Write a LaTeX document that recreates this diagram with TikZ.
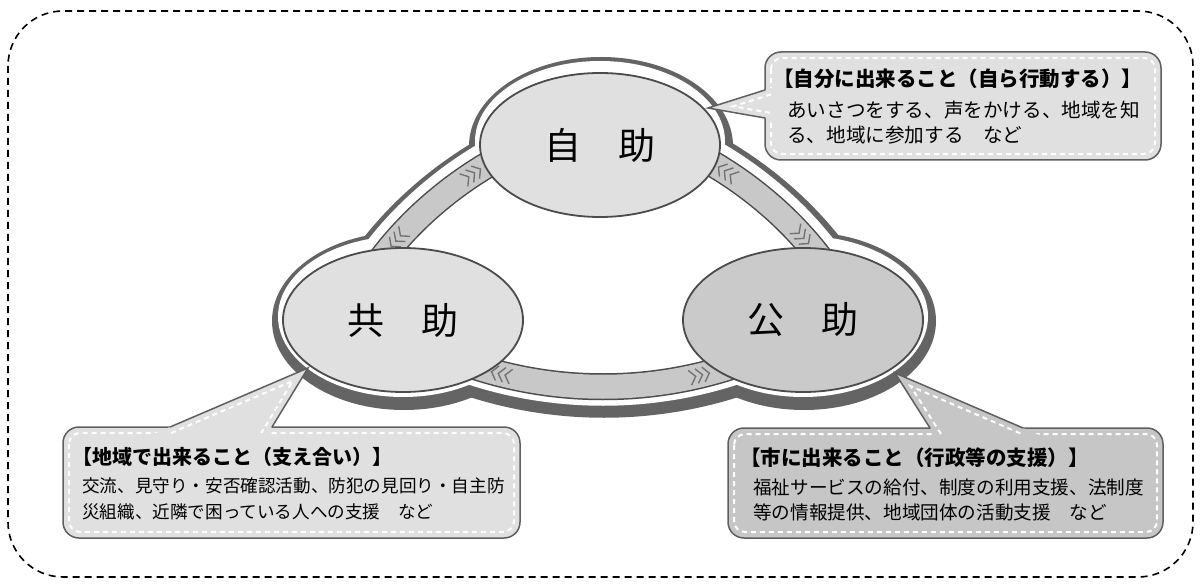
\documentclass[tikz,border=0pt]{standalone}
\usepackage{fontspec}
\newfontfamily\jp{Noto Sans CJK JP}
\usetikzlibrary{shapes.geometric,decorations.markings}
\definecolor{cloudgray}{RGB}{100,100,100}
\definecolor{bandfill}{RGB}{200,200,200}
\definecolor{bandline}{RGB}{75,75,75}
\definecolor{elllight}{RGB}{224,224,224}
\definecolor{elldark}{RGB}{202,202,202}
\definecolor{chevcol}{RGB}{115,115,115}
\definecolor{cline}{RGB}{95,95,95}
\definecolor{cdark}{RGB}{198,198,198}
\def\bandLpath{(505,155) .. controls (452,183) and (403,225) .. (370,275)}
\def\bandBpath{(470,365) .. controls (556,394) and (650,394) .. (736,365)}
\def\bandRpath{(697,155) .. controls (750,183) and (799,225) .. (832,275)}
\newcommand\chevback{\foreach \d in {-7,0,7}{\draw[chevstyle] (\d+3,-7.5) -- (\d-3,0) -- (\d+3,7.5);}}
\newcommand\chevfwd{\foreach \d in {-7,0,7}{\draw[chevstyle] (\d-3,-7.5) -- (\d+3,0) -- (\d-3,7.5);}}
\tikzset{
  chevstyle/.style={draw=chevcol, line width=1.4pt},
  chevs/.style 2 args={postaction={decorate}, decoration={markings,
      mark=at position #1 with {\chevback},
      mark=at position #2 with {\chevfwd}}},
  ell/.style={ellipse, draw=bandline, line width=1.8pt, minimum width=240, minimum height=144,
      inner sep=0pt, font=\jp\fontsize{37}{40}\selectfont},
  cbox/.style={draw=cline, line width=1.5pt, rounded corners=16},
  cdash/.style={white, line width=2pt, dash pattern=on 5pt off 4pt},
  cedge/.style={draw=cline, line width=1.5pt, line cap=round},
  ttlA/.style={anchor=west, inner sep=0pt, font=\jp\bfseries\fontsize{20.5}{24}\selectfont},
  ttlB/.style={anchor=west, inner sep=0pt, font=\jp\bfseries\fontsize{20}{24}\selectfont},
  bodyA/.style={anchor=west, inner sep=0pt, font=\jp\fontsize{19.6}{24}\selectfont},
  bodyB/.style={anchor=west, inner sep=0pt, font=\jp\fontsize{17.6}{22}\selectfont},
  bodyC/.style={anchor=west, inner sep=0pt, font=\jp\fontsize{18.6}{22}\selectfont},
  frame/.style={draw=black, line width=1.6pt, dash pattern=on 7pt off 5pt, rounded corners=55}
}
\begin{document}
\begin{tikzpicture}[x=1pt,y=-1pt]
\useasboundingbox (0,0) rectangle (1201,585);
% outer cloud outline: dark layer
\fill[cloudgray] (601,146) ellipse[x radius=132, y radius=89]
                 (404,321) ellipse[x radius=132, y radius=89]
                 (804,321) ellipse[x radius=132, y radius=89];
\begin{scope}[shift={(1,2)}]
  \draw[cloudgray, line width=58pt] \bandLpath \bandBpath \bandRpath;
\end{scope}
% white gap layer
\fill[white] (600,141.5) ellipse[x radius=125, y radius=80.5]
             (403,316.5) ellipse[x radius=125, y radius=80.5]
             (803,316.5) ellipse[x radius=125, y radius=80.5];
\begin{scope}[shift={(0,-2)}]
  \draw[white, line width=42pt] \bandLpath \bandBpath \bandRpath;
\end{scope}
% interior
\fill[white] (600,145) -- (505,155) .. controls (452,183) and (403,225) .. (370,275) -- (403,320)
  -- (470,365) .. controls (556,394) and (650,394) .. (736,365) -- (803,320)
  -- (832,275) .. controls (799,225) and (750,183) .. (697,155) -- cycle;
% bands
\draw[bandline, line width=27pt] \bandLpath \bandBpath \bandRpath;
\draw[bandfill, line width=24pt, chevs={0.21}{0.75}] \bandLpath;
\draw[bandfill, line width=24pt, chevs={0.12}{0.86}] \bandBpath;
\draw[bandfill, line width=24pt, chevs={0.19}{0.73}] \bandRpath;
% ellipses
\node[ell, fill=elllight] (jijo) at (600,145) {自\quad 助};
\node[ell, fill=elllight] (kyojo) at (403,320) {共\quad 助};
\node[ell, fill=elldark] (kojo) at (803,320) {公\quad 助};
% callout top right
\draw[cbox, fill=elllight] (765,52) rectangle (1161,160);
\draw[cdash, rounded corners=11] (771,58) rectangle (1155,154);
\fill[elllight] (708,108) -- (775,86.8) -- (775,119.8) -- cycle;
\draw[cedge] (765,90) -- (708,108) -- (765,118);
\draw[cdash] (771,94.4) -- (733.2,106.4) -- (771,113);
\node[ttlA] (trt) at (773,79) {【自分に出来ること（自ら行動する）】};
\node[bodyA] (tr1) at (787,110) {あいさつをする、声をかける、地域を知};
\node[bodyA] (tr2) at (787,135) {る、地域に参加する　など};
% callout bottom left
\draw[cbox, fill=elllight] (63,427) rectangle (520,538);
\draw[cdash, rounded corners=11] (69,433) rectangle (514,532);
\fill[elllight] (308,368) -- (146.6,437) -- (265.9,437) -- cycle;
\draw[cedge] (170,427) -- (308,368) -- (272,427);
\draw[cdash] (171,433) -- (292.7,381) -- (261.3,433);
\node[ttlB] (blt) at (72,457) {【地域で出来ること（支え合い）】};
\node[bodyB] (bl1) at (82,486) {交流、見守り・安否確認活動、防犯の見回り・自主防};
\node[bodyB] (bl2) at (82,512) {災組織、近隣で困っている人への支援　など};
% callout bottom right
\draw[cbox, fill=cdark] (728,428) rectangle (1163,538);
\draw[cdash, rounded corners=11] (734,434) rectangle (1157,532);
\fill[cdark] (895,373) -- (936.4,438) -- (1046.3,438) -- cycle;
\draw[cedge] (930,428) -- (895,373) -- (1023,428);
\draw[cdash] (941,434) -- (910.6,386.2) -- (1021.8,434);
\node[ttlA] (brt) at (740,458) {【市に出来ること（行政等の支援）】};
\node[bodyC] (br1) at (753,487) {福祉サービスの給付、制度の利用支援、法制度};
\node[bodyC] (br2) at (753,512) {等の情報提供、地域団体の活動支援　など};
% outer dashed frame
\draw[frame] (8,11) rectangle (1193,577);
\end{tikzpicture}
\end{document}
